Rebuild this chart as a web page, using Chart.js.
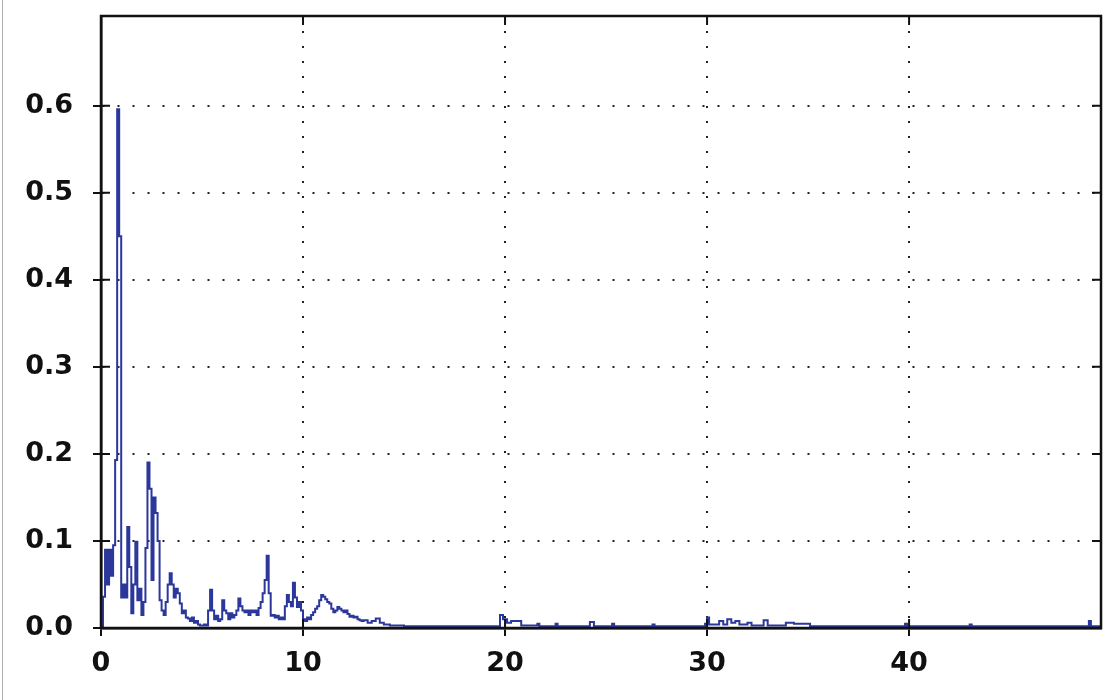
<!DOCTYPE html>
<html>
<head>
<meta charset="utf-8">
<script src="https://cdn.jsdelivr.net/npm/chart.js@4/dist/chart.umd.min.js"></script>
<style>
  html, body { margin: 0; padding: 0; background: #fff; }
  #wrap { position: relative; width: 1116px; height: 700px; }
  #edge { position: absolute; left: 2px; top: 0; width: 1px; height: 700px; background: #b0b0b0; }
</style>
</head>
<body>
<div id="wrap">
  <canvas id="specChart" width="1116" height="700"></canvas>
  <div id="edge"></div>
</div>
<script>
// frequency (x) and amplitude (y)
const freq = [
  0.0, 0.1, 0.2, 0.3, 0.4, 0.5, 0.6, 0.7, 0.8, 0.9,
  1.0, 1.1, 1.2, 1.3, 1.4, 1.5, 1.6, 1.7, 1.8, 1.9,
  2.0, 2.1, 2.2, 2.3, 2.4, 2.5, 2.6, 2.7, 2.8, 2.9,
  3.0, 3.1, 3.2, 3.3, 3.4, 3.5, 3.6, 3.7, 3.8, 3.9,
  4.0, 4.1, 4.2, 4.3, 4.4, 4.5, 4.6, 4.7, 4.8, 4.9,
  5.0, 5.1, 5.2, 5.3, 5.4, 5.5, 5.6, 5.7, 5.8, 5.9,
  6.0, 6.1, 6.2, 6.3, 6.4, 6.5, 6.6, 6.7, 6.8, 6.9,
  7.0, 7.1, 7.2, 7.3, 7.4, 7.5, 7.6, 7.7, 7.8, 7.9,
  8.0, 8.1, 8.2, 8.3, 8.4, 8.5, 8.6, 8.7, 8.8, 8.9,
  9.0, 9.1, 9.2, 9.3, 9.4, 9.5, 9.6, 9.7, 9.8, 9.9,
  10.0, 10.1, 10.2, 10.3, 10.4, 10.5, 10.6, 10.7, 10.8, 10.9,
  11.0, 11.1, 11.2, 11.3, 11.4, 11.5, 11.6, 11.7, 11.8, 11.9,
  12.0, 12.1, 12.2, 12.3, 12.4, 12.5, 12.6, 12.7, 12.8, 12.9,
  13.0, 13.2, 13.4, 13.6, 13.8, 14.0, 14.3, 14.6, 15.0, 16.0,
  18.0, 19.6, 19.75, 19.9, 20.1, 20.3, 20.6, 20.8, 21.6, 21.7,
  22.5, 22.6, 24.2, 24.4, 25.3, 25.4, 27.3, 27.4, 29.9, 30.0,
  30.1, 30.6, 30.8, 31.0, 31.2, 31.4, 31.6, 32.0, 32.2, 32.8,
  33.0, 33.9, 34.3, 34.9, 35.1, 39.8, 39.9, 43.0, 43.1, 48.9,
  49.0, 49.5
];
const amp = [
  0.0, 0.036, 0.09, 0.05, 0.09, 0.06, 0.095, 0.193, 0.596, 0.45,
  0.035, 0.05, 0.035, 0.116, 0.07, 0.017, 0.05, 0.099, 0.032, 0.045,
  0.015, 0.03, 0.092, 0.19, 0.16, 0.055, 0.15, 0.132, 0.10, 0.032,
  0.02, 0.015, 0.03, 0.05, 0.063, 0.05, 0.035, 0.045, 0.04, 0.028,
  0.017, 0.02, 0.012, 0.011, 0.008, 0.012, 0.006, 0.008, 0.004, 0.003,
  0.003, 0.004, 0.003, 0.02, 0.044, 0.02, 0.01, 0.014, 0.008, 0.01,
  0.032, 0.02, 0.017, 0.01, 0.017, 0.012, 0.015, 0.02, 0.034, 0.025,
  0.02, 0.018, 0.02, 0.015, 0.02, 0.018, 0.02, 0.015, 0.023, 0.03,
  0.04, 0.055, 0.083, 0.04, 0.014, 0.015, 0.012, 0.014, 0.01, 0.012,
  0.01, 0.025, 0.038, 0.03, 0.025, 0.052, 0.035, 0.024, 0.03, 0.02,
  0.01, 0.008, 0.012, 0.01, 0.015, 0.018, 0.022, 0.025, 0.032, 0.038,
  0.036, 0.033, 0.03, 0.028, 0.022, 0.018, 0.02, 0.024, 0.022, 0.02,
  0.018, 0.02, 0.016, 0.013, 0.014, 0.012, 0.013, 0.01, 0.009, 0.008,
  0.009, 0.006, 0.008, 0.011, 0.006, 0.004, 0.003, 0.003, 0.002, 0.002,
  0.002, 0.002, 0.015, 0.01, 0.006, 0.008, 0.008, 0.003, 0.005, 0.002,
  0.005, 0.002, 0.007, 0.002, 0.005, 0.002, 0.004, 0.002, 0.005, 0.012,
  0.004, 0.008, 0.004, 0.01, 0.006, 0.008, 0.004, 0.006, 0.003, 0.009,
  0.003, 0.006, 0.005, 0.005, 0.002, 0.005, 0.002, 0.004, 0.002, 0.008,
  0.002, 0.002
];
const xTicks = [0, 10, 20, 30, 40];
const yTicks = [0, 0.1, 0.2, 0.3, 0.4, 0.5, 0.6];

const points = freq.map((f, i) => ({ x: f, y: amp[i] }));

// frame round the plot plus the short inner tick marks
const framePlugin = {
  id: 'frame',
  afterDraw(chart) {
    const { ctx, chartArea: a, scales } = chart;
    ctx.save();
    ctx.strokeStyle = '#111';
    ctx.lineWidth = 2.5;
    ctx.strokeRect(a.left, a.top, a.right - a.left, a.bottom - a.top);
    ctx.lineWidth = 2;
    ctx.beginPath();
    yTicks.forEach(v => {
      const y = scales.y.getPixelForValue(v);
      ctx.moveTo(a.left, y); ctx.lineTo(a.left + 9, y);
      ctx.moveTo(a.right, y); ctx.lineTo(a.right - 9, y);
    });
    xTicks.forEach(v => {
      const x = scales.x.getPixelForValue(v);
      ctx.moveTo(x, a.bottom); ctx.lineTo(x, a.bottom - 9);
      ctx.moveTo(x, a.top); ctx.lineTo(x, a.top + 9);
    });
    ctx.stroke();
    ctx.restore();
  }
};

const tickFont = { family: 'DejaVu Sans', size: 27, weight: 'bold' };

new Chart(document.getElementById('specChart'), {
  type: 'line',
  data: {
    datasets: [{
      data: points,
      borderColor: '#2b379b',
      borderWidth: 2,
      pointRadius: 0,
      stepped: true,
      fill: false
    }]
  },
  options: {
    responsive: false,
    animation: false,
    layout: { padding: { left: 0, top: 16, right: 15, bottom: 0 } },
    plugins: { legend: { display: false }, tooltip: { enabled: false } },
    scales: {
      x: {
        type: 'linear',
        min: 0,
        max: 49.5,
        afterBuildTicks: s => { s.ticks = xTicks.map(v => ({ value: v })); },
        afterFit: s => { s.height = 72; s.paddingLeft = 0; s.paddingRight = 0; },
        ticks: { font: tickFont, color: '#111', padding: 12, maxRotation: 0 },
        grid: {
          color: '#222', lineWidth: 2,
          tickLength: 8, tickColor: '#111', tickWidth: 2, tickBorderDash: []
        },
        border: { display: true, color: '#111', width: 2.5, dash: [2, 13] }
      },
      y: {
        min: 0,
        max: 0.703,
        afterBuildTicks: s => { s.ticks = yTicks.map(v => ({ value: v })); },
        afterFit: s => { s.width = 101; s.paddingTop = 0; s.paddingBottom = 0; },
        ticks: { font: tickFont, color: '#111', padding: 20, callback: v => v.toFixed(1) },
        grid: {
          color: '#222', lineWidth: 2,
          tickLength: 8, tickColor: '#111', tickWidth: 2, tickBorderDash: []
        },
        border: { display: true, color: '#111', width: 2.5, dash: [2, 13] }
      }
    }
  },
  plugins: [framePlugin]
});
</script>
</body>
</html>
